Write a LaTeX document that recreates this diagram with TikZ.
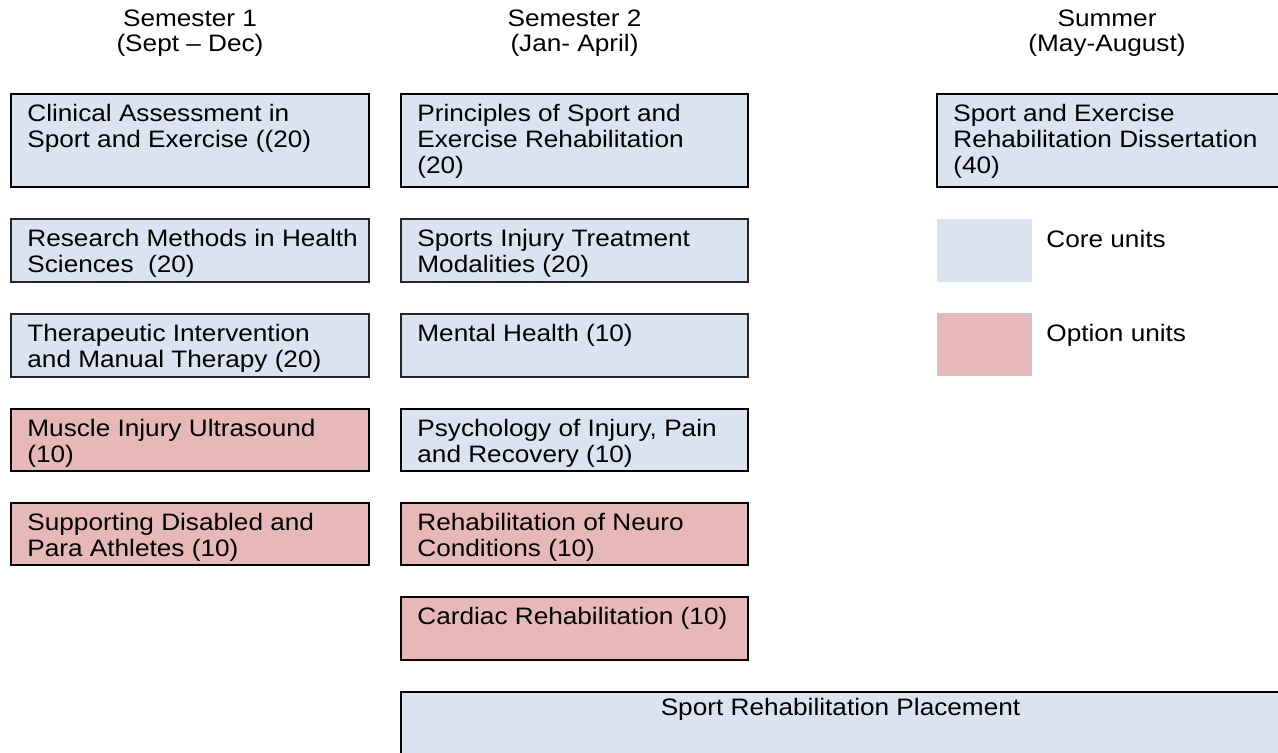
\documentclass[tikz,border=0pt]{standalone}
\usepackage{fontspec}
\setmainfont{Liberation Sans}[FakeStretch=1.1]
\definecolor{corec}{HTML}{DAE3F0}
\definecolor{optc}{HTML}{E6B8B7}
\tikzset{
  x=0.5pt, y=-0.5pt,
  boxbase/.style={inner sep=0pt, outer sep=0pt, anchor=north west},
  thickcore/.style={boxbase, draw=black, line width=1.25pt, fill=corec},
  thincore/.style={boxbase, draw=black!85, line width=0.65pt, fill=corec},
  thickopt/.style={boxbase, draw=black, line width=1.25pt, fill=optc},
  legcore/.style={boxbase, fill=corec},
  legopt/.style={boxbase, fill=optc},
  unittext/.style={anchor=north west, align=left, inner sep=0pt, font=\fontsize{11.9}{13}\selectfont},
  titletext/.style={anchor=north, align=center, inner sep=0pt, font=\fontsize{11.9}{12.5}\selectfont},
}
\newcommand\caprule{\rule{0pt}{9.1pt}}
\newcommand\mkunit[7]{%
  \node[#2, minimum width={(#5-#3)*0.5pt}, minimum height={(#6-#4)*0.5pt}] (#1) at (#3,#4) {};
  \node[unittext] (#1-t) at ([xshift=8pt,yshift=-4.5pt]#1.north west) {\caprule #7};
}
\begin{document}
\begin{tikzpicture}
\useasboundingbox (0,0) rectangle (1278,753);
\clip (0,0) rectangle (1278,753);
% titles
\node[titletext] (t1) at (190,8) {\caprule Semester 1\\(Sept -- Dec)};
\node[titletext] (t2) at (574.5,8) {\caprule Semester 2\\(Jan- April)};
\node[titletext] (t3) at (1107,8) {\caprule Summer\\(May-August)};
% column 1
\mkunit{a1}{thickcore}{11}{94}{369}{187}{Clinical Assessment in\\Sport and Exercise ((20)}
\mkunit{a2}{thincore}{11}{219}{369}{282}{Research Methods in Health\\Sciences\ \ (20)}
\mkunit{a3}{thincore}{11}{314}{369}{377}{Therapeutic Intervention\\and Manual Therapy (20)}
\mkunit{a4}{thickopt}{11}{409}{369}{471}{Muscle Injury Ultrasound\\(10)}
\mkunit{a5}{thickopt}{11}{503}{369}{565}{Supporting Disabled and\\Para Athletes (10)}
% column 2
\mkunit{b1}{thickcore}{401}{94}{748}{187}{Principles of Sport and\\Exercise Rehabilitation\\(20)}
\mkunit{b2}{thincore}{401}{219}{748}{282}{Sports Injury Treatment\\Modalities (20)}
\mkunit{b3}{thincore}{401}{314}{748}{377}{Mental Health (10)}
\mkunit{b4}{thickcore}{401}{409}{748}{471}{Psychology of Injury, Pain\\and Recovery (10)}
\mkunit{b5}{thickopt}{401}{503}{748}{565}{Rehabilitation of Neuro\\Conditions (10)}
\mkunit{b6}{thickopt}{401}{597}{748}{660}{Cardiac Rehabilitation (10)}
% column 3
\mkunit{c1}{thickcore}{937}{94}{1290}{187}{Sport and Exercise\\Rehabilitation Dissertation\\(40)}
% placement
\node[thickcore, minimum width={(1290-401)*0.5pt}, minimum height={(775-692)*0.5pt}] (pl) at (401,692) {};
\node[titletext] (pl-t) at (840.5,697) {\caprule Sport Rehabilitation Placement};
% legend
\node[legcore, minimum width={95*0.5pt}, minimum height={63*0.5pt}] (lc) at (937,219) {};
\node[legopt, minimum width={95*0.5pt}, minimum height={63*0.5pt}] (lo) at (937,313) {};
\node[unittext] (lc-t) at (1046,229) {\caprule Core units};
\node[unittext] (lo-t) at (1046,323) {\caprule Option units};
\end{tikzpicture}
\end{document}
